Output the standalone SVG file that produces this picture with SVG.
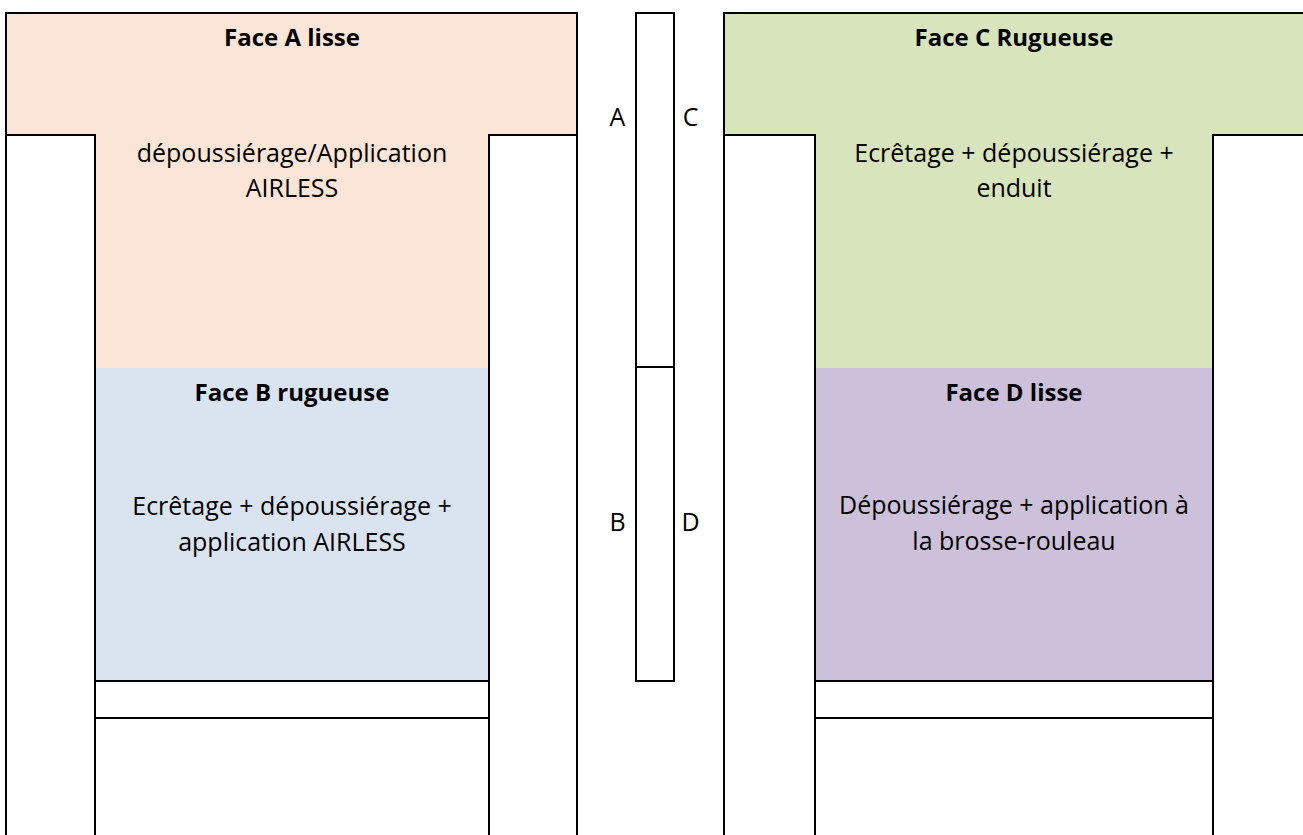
<svg xmlns="http://www.w3.org/2000/svg" width="1303" height="835" viewBox="0 0 1303 835">
<style>
.ln{fill:none;stroke:#000;stroke-width:2;stroke-linecap:square}
.t{font-family:"Open Sans","Liberation Sans",sans-serif;fill:#000;text-anchor:middle}
.h{font-size:24px;font-weight:bold}
.b{font-size:25px}
</style>
<rect width="1303" height="835" fill="#fff"/>
<g id="faceA">
<polygon points="6,13 577,13 577,135 489,135 489,368 95,368 95,135 6,135" fill="#FBE5D6"/>
<text class="t h" x="292" y="46">Face A lisse</text>
<text class="t b" x="292" y="162">dépoussiérage/Application</text>
<text class="t b" x="292" y="197">AIRLESS</text>
</g>
<g id="faceB">
<rect x="95" y="368" width="394" height="313" fill="#DAE3F0"/>
<text class="t h" x="292" y="401">Face B rugueuse</text>
<text class="t b" x="292" y="515">Ecrêtage + dépoussiérage +</text>
<text class="t b" x="292" y="551">application AIRLESS</text>
</g>
<g id="faceC">
<polygon points="724,13 1305,13 1305,135 1213,135 1213,368 815,368 815,135 724,135" fill="#D8E4BC"/>
<text class="t h" x="1014" y="46">Face C Rugueuse</text>
<text class="t b" x="1014" y="162">Ecrêtage + dépoussiérage +</text>
<text class="t b" x="1014" y="197">enduit</text>
</g>
<g id="faceD">
<rect x="815" y="368" width="398" height="313" fill="#CCC0DA"/>
<text class="t h" x="1014" y="401">Face D lisse</text>
<text class="t b" x="1014" y="514">Dépoussiérage + application à</text>
<text class="t b" x="1014" y="550">la brosse-rouleau</text>
</g>
<g id="strip">
<rect class="ln" x="636" y="13" width="38" height="668"/>
<line class="ln" x1="636" y1="367" x2="674" y2="367"/>
<text class="t b" x="617.5" y="126">A</text>
<text class="t b" x="690.5" y="126">C</text>
<text class="t b" x="617.5" y="531">B</text>
<text class="t b" x="690.5" y="531">D</text>
</g>
<g id="outlines">
<polyline class="ln" points="6,840 6,13 577,13 577,840"/>
<polyline class="ln" points="6,135 95,135 95,840"/>
<polyline class="ln" points="577,135 489,135 489,840"/>
<line class="ln" x1="95" y1="681" x2="489" y2="681"/>
<line class="ln" x1="95" y1="718" x2="489" y2="718"/>
<polyline class="ln" points="724,840 724,13 1310,13"/>
<polyline class="ln" points="724,135 815,135 815,840"/>
<polyline class="ln" points="1310,135 1213,135 1213,840"/>
<line class="ln" x1="815" y1="681" x2="1213" y2="681"/>
<line class="ln" x1="815" y1="718" x2="1213" y2="718"/>
</g>
</svg>
